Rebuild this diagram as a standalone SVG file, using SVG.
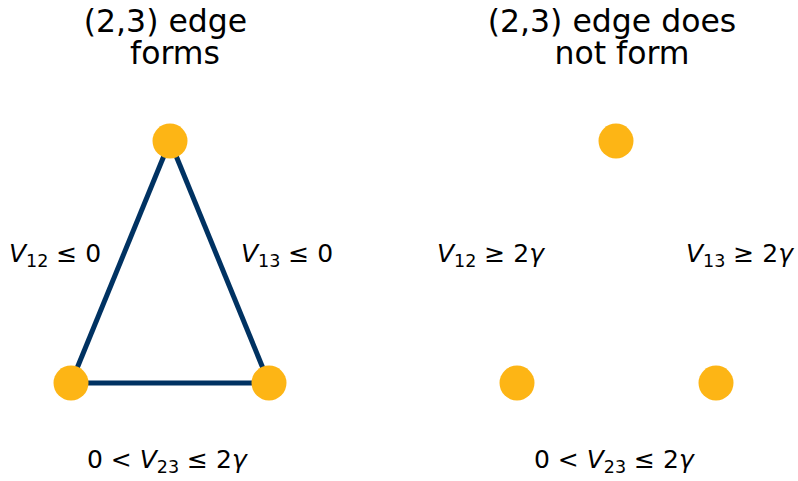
<svg xmlns="http://www.w3.org/2000/svg" width="798" height="481" viewBox="0 0 798 481">
<style>
.t{font-family:"DejaVu Sans",sans-serif;font-size:31.5px;fill:#000;text-anchor:middle}
.m{font-family:"DejaVu Sans",sans-serif;font-size:25px;fill:#000}
.v{font-style:italic}
.s{font-size:17.5px}
.n{fill:#FDB515}
.e{stroke:#003262;stroke-width:5;fill:none}
</style>
<rect width="798" height="481" fill="#fff"/>
<text class="t" x="165.5" y="32">(2,3) edge</text>
<text class="t" x="175" y="64">forms</text>
<text class="t" x="612" y="32">(2,3) edge does</text>
<text class="t" x="622" y="64">not form</text>
<g id="edges">
<line class="e" x1="170" y1="141" x2="71" y2="383"/>
<line class="e" x1="170" y1="141" x2="269" y2="383"/>
<line class="e" x1="71" y1="383" x2="269" y2="383"/>
</g>
<g id="n1"><circle class="n" cx="170" cy="141" r="17.5"/></g>
<g id="n2"><circle class="n" cx="71" cy="383" r="17.5"/></g>
<g id="n3"><circle class="n" cx="269" cy="383" r="17.5"/></g>
<g id="n4"><circle class="n" cx="616" cy="141" r="17.5"/></g>
<g id="n5"><circle class="n" cx="517" cy="383" r="17.5"/></g>
<g id="n6"><circle class="n" cx="716" cy="383" r="17.5"/></g>
<text class="m" x="9" y="262"><tspan class="v">V</tspan><tspan class="s" dy="5">12</tspan><tspan dy="-5"> ≤ 0</tspan></text>
<text class="m" x="241" y="262"><tspan class="v">V</tspan><tspan class="s" dy="5">13</tspan><tspan dy="-5"> ≤ 0</tspan></text>
<text class="m" x="87" y="468">0 &lt; <tspan class="v">V</tspan><tspan class="s" dy="5">23</tspan><tspan dy="-5"> ≤ 2</tspan><tspan class="v">γ</tspan></text>
<text class="m" x="437" y="262"><tspan class="v">V</tspan><tspan class="s" dy="5">12</tspan><tspan dy="-5"> ≥ 2</tspan><tspan class="v">γ</tspan></text>
<text class="m" x="686" y="262"><tspan class="v">V</tspan><tspan class="s" dy="5">13</tspan><tspan dy="-5"> ≥ 2</tspan><tspan class="v">γ</tspan></text>
<text class="m" x="534" y="468">0 &lt; <tspan class="v">V</tspan><tspan class="s" dy="5">23</tspan><tspan dy="-5"> ≤ 2</tspan><tspan class="v">γ</tspan></text>
</svg>
